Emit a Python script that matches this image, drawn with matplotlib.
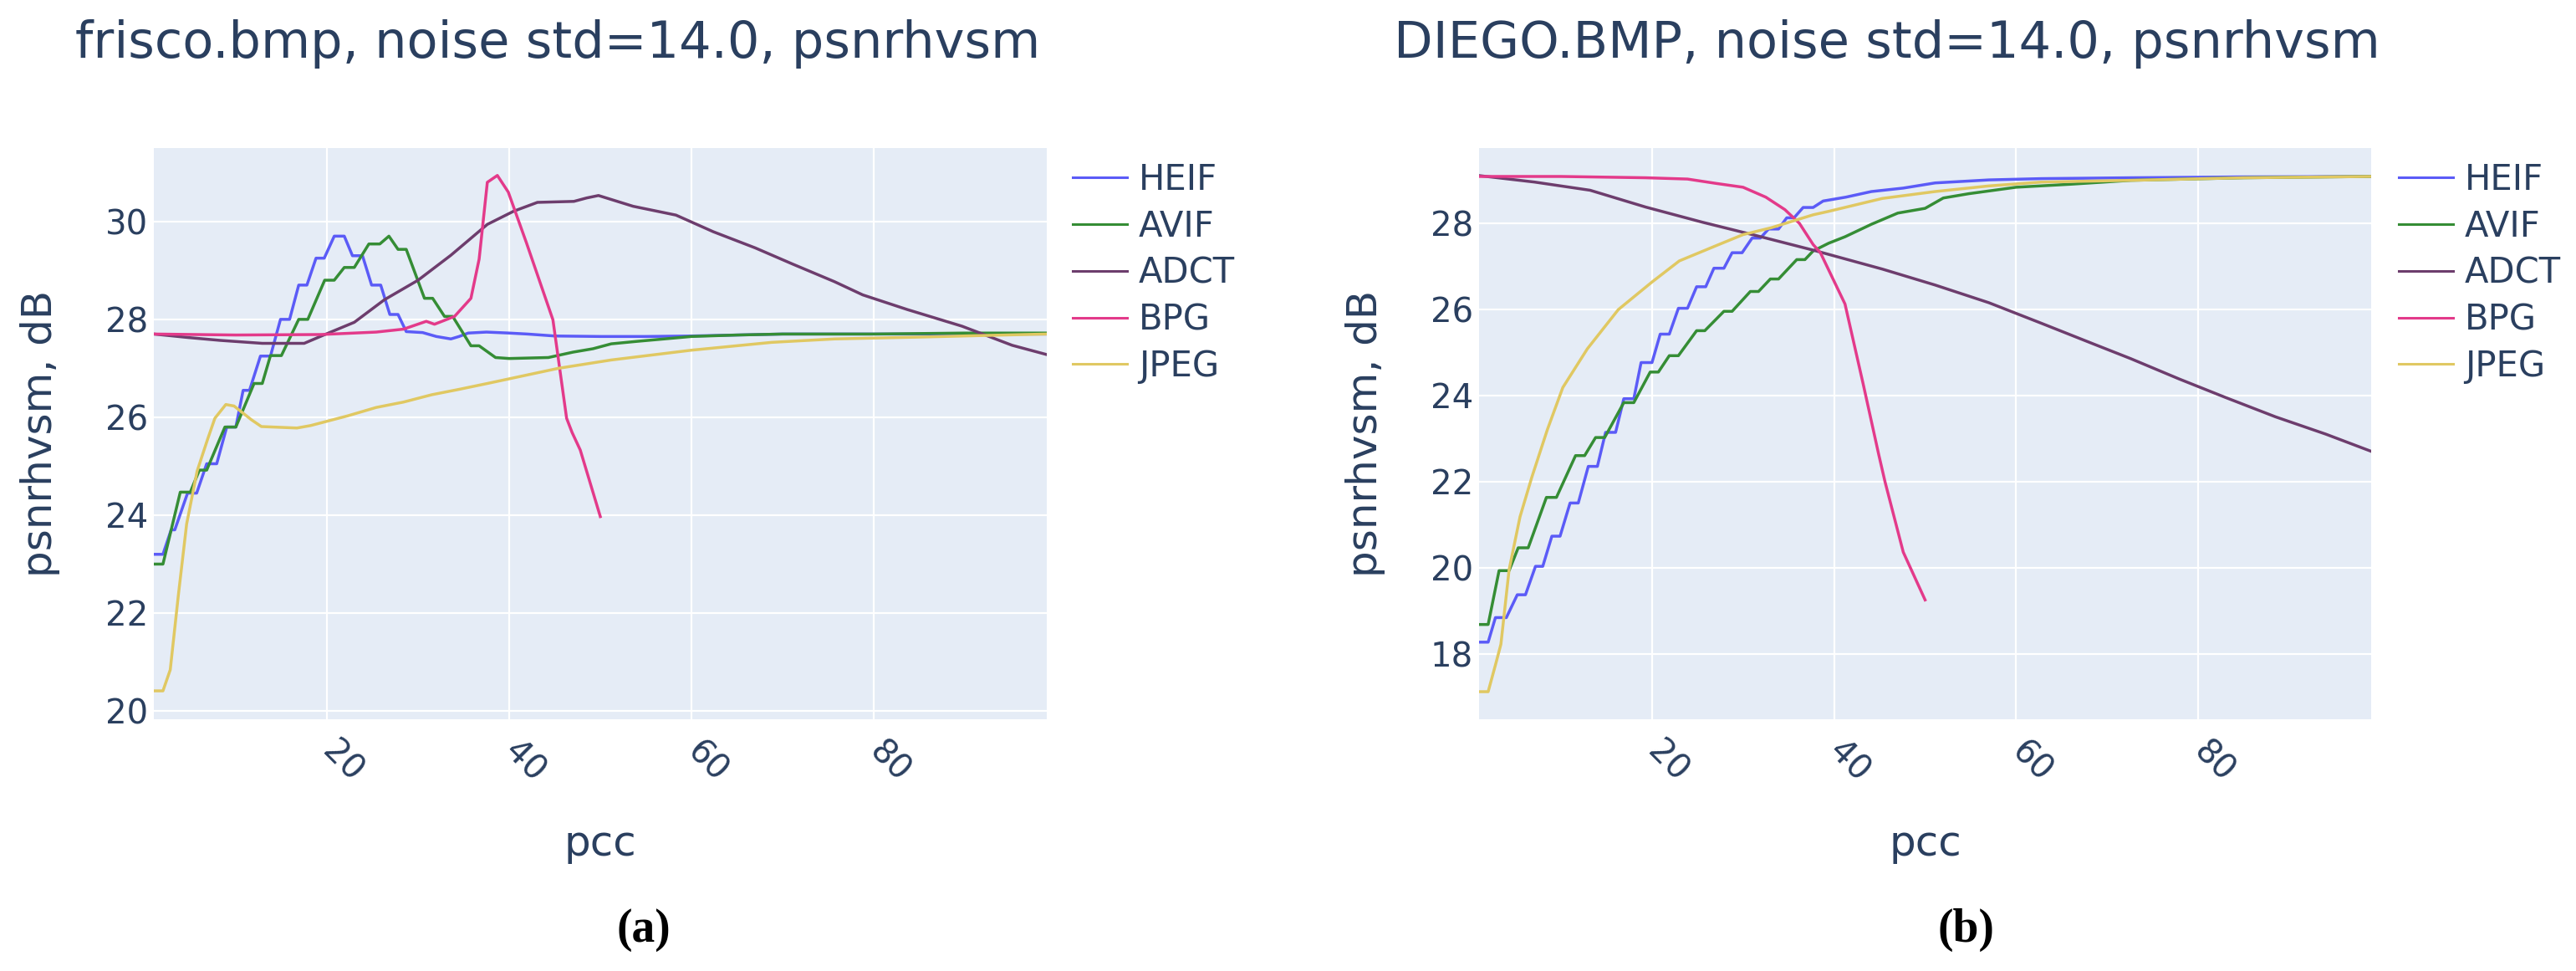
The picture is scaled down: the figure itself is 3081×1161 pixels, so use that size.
import matplotlib.pyplot as plt

# ---- data (pcc, psnrhvsm dB) ----
names = ['HEIF', 'AVIF', 'ADCT', 'BPG', 'JPEG']
colors = ['#5b5bf7', '#358d35', '#6d3d6d', '#e33a8a', '#e0c862']

# (a) frisco.bmp
heif_a_x = [1, 2, 2.9, 3.3, 4.7, 5.7, 6.8, 7.9, 9.0, 10.0, 10.8, 11.5, 12.7, 13.8, 14.9, 15.9, 16.9, 17.8, 18.8, 19.7,
            20.8, 21.9, 22.8, 23.9, 24.9, 25.9, 26.9, 27.8, 28.7, 30.5, 32.0, 33.6, 34.5, 35.5, 37.5, 40, 42, 45, 50, 55,
            60, 65, 70, 80, 90, 99]
heif_a_y = [23.2, 23.2, 23.7, 23.7, 24.45, 24.45, 25.05, 25.05, 25.8, 25.8, 26.55, 26.55, 27.25, 27.25, 28.0, 28.0, 28.7,
            28.7, 29.25, 29.25, 29.7, 29.7, 29.3, 29.3, 28.7, 28.7, 28.1, 28.1, 27.75, 27.73, 27.65, 27.6, 27.65, 27.72,
            27.74, 27.72, 27.7, 27.66, 27.65, 27.65, 27.66, 27.68, 27.7, 27.7, 27.7, 27.7]
avif_a_x = [1, 2, 3.9, 5.0, 6.0, 6.8, 8.8, 10.0, 12.0, 12.9, 13.8, 15.0, 16.9, 17.9, 19.75, 20.8, 21.9, 23.0, 24.6, 25.8,
            26.8, 27.8, 28.7, 30.7, 31.6, 32.9, 33.8, 35.8, 36.7, 38.5, 40, 44.3, 47, 49.2, 51.2, 54, 57, 60, 65, 70,
            80, 90, 99]
avif_a_y = [23.0, 23.0, 24.47, 24.47, 24.92, 24.92, 25.8, 25.8, 26.69, 26.69, 27.26, 27.26, 28.0, 28.0, 28.8, 28.8, 29.06,
            29.06, 29.54, 29.54, 29.7, 29.43, 29.43, 28.43, 28.43, 28.06, 28.06, 27.46, 27.46, 27.22, 27.2, 27.22, 27.33,
            27.4, 27.5, 27.55, 27.6, 27.65, 27.68, 27.7, 27.7, 27.72, 27.72]
adct_a_x = [1, 4.7, 8.3, 12.9, 17.5, 19.9, 23, 26.3, 30, 33.6, 37.6, 40.5, 43.1, 47.1, 48.5, 49.8, 53.6, 58.3, 62.4, 67,
            71.1, 75.7, 78.8, 83.7, 89.7, 95.2, 99]
adct_a_y = [27.7, 27.63, 27.57, 27.51, 27.51, 27.7, 27.94, 28.4, 28.8, 29.31, 29.94, 30.21, 30.39, 30.41, 30.48, 30.53,
            30.31, 30.13, 29.79, 29.46, 29.13, 28.77, 28.5, 28.2, 27.86, 27.47, 27.28]
bpg_a_x = [1, 10, 19.3, 25.4, 28.4, 30.9, 31.8, 34, 35.8, 36.7, 37.6, 38.7, 39.9, 41.9, 44.8, 46.3, 46.9, 47.8, 50]
bpg_a_y = [27.7, 27.68, 27.69, 27.74, 27.8, 27.96, 27.9, 28.06, 28.43, 29.23, 30.8, 30.94, 30.6, 29.56, 27.99, 25.98,
           25.69, 25.33, 23.97]
jpeg_a_x = [1, 2, 2.8, 3.7, 4.6, 5.75, 6.9, 7.7, 8.9, 9.8, 11.7, 12.8, 16.7, 18.2, 22.3, 25.4, 28.4, 31.5, 34.5, 37.6,
            45.4, 51.2, 60, 68.8, 75.7, 85.5, 92, 99]
jpeg_a_y = [20.41, 20.41, 20.84, 22.38, 23.82, 24.9, 25.55, 25.98, 26.26, 26.23, 25.95, 25.81, 25.78, 25.83, 26.03, 26.2,
            26.31, 26.46, 26.57, 26.69, 27.0, 27.17, 27.37, 27.53, 27.6, 27.64, 27.67, 27.7]

# (b) DIEGO.BMP
heif_b_x = [1, 2, 2.8, 4.0, 5.2, 6.1, 7.2, 8.0, 9.0, 9.9, 11.0, 11.9, 13.0, 14.0, 14.9, 16.0, 16.9, 18.0, 18.8, 20.0,
            20.9, 21.9, 22.9, 23.9, 24.9, 25.9, 26.8, 27.9, 28.8, 29.9, 31.0, 31.9, 32.8, 33.9, 34.8, 35.6, 36.6, 37.7,
            38.8, 41.3, 44.1, 47.6, 51.1, 57, 62.8, 72.6, 85, 99]
heif_b_y = [18.27, 18.27, 18.84, 18.84, 19.37, 19.37, 20.03, 20.03, 20.73, 20.73, 21.5, 21.5, 22.35, 22.35, 23.14, 23.14,
            23.92, 23.92, 24.76, 24.76, 25.42, 25.42, 26.02, 26.02, 26.52, 26.52, 26.95, 26.95, 27.31, 27.31, 27.65,
            27.65, 27.86, 27.86, 28.12, 28.12, 28.36, 28.36, 28.51, 28.6, 28.73, 28.81, 28.93, 29.0, 29.03, 29.05,
            29.07, 29.08]
avif_b_x = [1, 2, 3.2, 4.3, 5.3, 6.4, 8.4, 9.5, 11.6, 12.6, 13.8, 14.8, 16.9, 18.0, 19.8, 20.7, 21.9, 22.9, 24.9, 25.8,
            27.9, 28.8, 30.8, 31.7, 33.0, 33.9, 35.9, 36.8, 37.7, 39.4, 41.2, 44.1, 47.0, 50.0, 52.0, 54.8, 60, 66,
            72.6, 85, 99]
avif_b_y = [18.68, 18.68, 19.93, 19.93, 20.46, 20.46, 21.63, 21.63, 22.6, 22.6, 23.02, 23.02, 23.83, 23.83, 24.54, 24.54,
            24.92, 24.92, 25.5, 25.5, 25.95, 25.95, 26.41, 26.41, 26.7, 26.7, 27.15, 27.15, 27.35, 27.53, 27.68, 27.97,
            28.23, 28.34, 28.58, 28.68, 28.83, 28.9, 28.99, 29.05, 29.08]
adct_b_x = [1, 7.1, 13.2, 19.3, 25.5, 31.6, 37.7, 45.3, 51.1, 57, 62.8, 68.4, 72.6, 77.9, 83, 88.5, 94, 99]
adct_b_y = [29.1, 28.95, 28.76, 28.37, 28.02, 27.7, 27.37, 26.93, 26.56, 26.15, 25.67, 25.2, 24.85, 24.38, 23.95, 23.5,
            23.1, 22.7]
bpg_b_x = [1, 10, 19.3, 23.9, 27, 30, 32.5, 34.6, 36.2, 37.7, 38.5, 41.2, 43.2, 44.9, 45.6, 47.6, 50]
bpg_b_y = [29.08, 29.08, 29.05, 29.02, 28.92, 28.83, 28.6, 28.31, 27.99, 27.5, 27.31, 26.12, 24.26, 22.63, 21.99, 20.36,
           19.25]
jpeg_b_x = [1, 2, 2.8, 3.4, 4.3, 5.5, 6.8, 8.5, 10.2, 12.9, 16.3, 20, 23, 27, 30, 33.1, 37.7, 39.4, 45.3, 51.1, 57,
            62.8, 72.6, 85, 99]
jpeg_b_y = [17.12, 17.12, 17.74, 18.22, 19.95, 21.18, 22.1, 23.2, 24.18, 25.08, 25.99, 26.63, 27.12, 27.47, 27.73, 27.89,
            28.19, 28.27, 28.57, 28.73, 28.86, 28.95, 28.99, 29.05, 29.08]

panels = [
    {'title': 'frisco.bmp, noise std=14.0, psnrhvsm', 'tag': 'a',
     'series': [(heif_a_x, heif_a_y), (avif_a_x, avif_a_y), (adct_a_x, adct_a_y), (bpg_a_x, bpg_a_y), (jpeg_a_x, jpeg_a_y)],
     'ylim': (19.83, 31.5), 'yticks': [20, 22, 24, 26, 28, 30]},
    {'title': 'DIEGO.BMP, noise std=14.0, psnrhvsm', 'tag': 'b',
     'series': [(heif_b_x, heif_b_y), (avif_b_x, avif_b_y), (adct_b_x, adct_b_y), (bpg_b_x, bpg_b_y), (jpeg_b_x, jpeg_b_y)],
     'ylim': (16.48, 29.74), 'yticks': [18, 20, 22, 24, 26, 28]},
]

W, H = 3081, 1161
txt = '#2a3f5f'
plt.rcParams['font.family'] = ['DejaVu Sans']

fig = plt.figure(figsize=(W / 100, H / 100), dpi=100)

# pixel boxes of the two plot areas
boxes = [(184, 177, 1252, 860), (1769, 177, 2836, 860)]
title_cx = [667, 2257]
leg_left = [1283, 2869]
tag_cx = [770, 2352]

for i, p in enumerate(panels):
    x0, y0, x1, y1 = boxes[i]
    ax = fig.add_axes([x0 / W, 1 - y1 / H, (x1 - x0) / W, (y1 - y0) / H])
    ax.set_facecolor('#e5ecf6')
    for s in ax.spines.values():
        s.set_visible(False)
    ax.grid(True, color='white', linewidth=1.6)
    ax.set_axisbelow(True)

    for (xs, ys), name, c in zip(p['series'], names, colors):
        ax.plot(xs, ys, color=c, linewidth=2.5, label=name)

    ax.set_xlim(1, 99)
    ax.set_ylim(*p['ylim'])
    ax.set_xticks([20, 40, 60, 80])
    ax.set_yticks(p['yticks'])
    ax.tick_params(length=0, labelsize=29, labelcolor=txt)
    ax.tick_params(axis='x', pad=24)
    ax.tick_params(axis='y', pad=5)
    plt.setp(ax.get_xticklabels(), rotation=-45, ha='left', va='center', rotation_mode='anchor')

    ax.set_xlabel('pcc', fontsize=36, color=txt)
    ax.xaxis.set_label_coords(0.5, -0.183)
    ax.set_ylabel('psnrhvsm, dB', fontsize=36, color=txt)
    ax.yaxis.set_label_coords(-0.105, 0.5)

    ax.text((title_cx[i] - x0) / (x1 - x0), (y1 - 69) / (y1 - y0), p['title'], transform=ax.transAxes,
            ha='center', va='baseline', fontsize=43.7, color=txt)

    leg = ax.legend(loc='upper left', bbox_to_anchor=(leg_left[i] / W, 1 - 194 / H),
                    bbox_transform=fig.transFigure, frameon=False, fontsize=30,
                    handlelength=1.56, handletextpad=0.34, labelspacing=0.33,
                    borderpad=0, borderaxespad=0)
    for t in leg.get_texts():
        t.set_color(txt)
    for l in leg.get_lines():
        l.set_linewidth(2.2)

    fig.text(tag_cx[i] / W, 1 - 1112 / H, '(' + p['tag'] + ')', ha='center', va='center',
             fontsize=40, fontweight='bold', family='Liberation Serif')

fig.savefig('out.png', dpi=100)
